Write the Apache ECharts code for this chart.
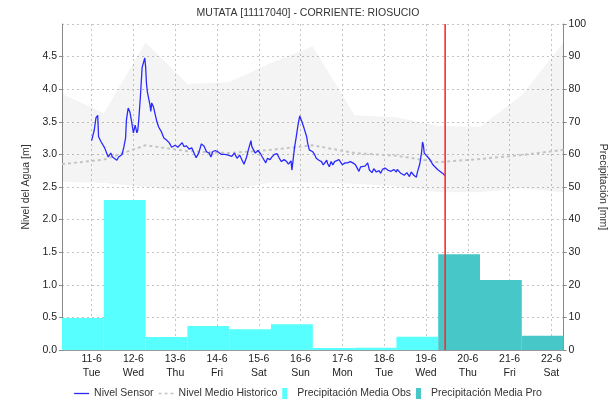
<!DOCTYPE html>
<html>
<head>
<meta charset="utf-8">
<script src="https://cdn.jsdelivr.net/npm/echarts@6/dist/echarts.min.js"></script>
<style>
html, body { margin: 0; padding: 0; background: #fff; }
#chart { width: 616px; height: 405px; }
</style>
</head>
<body>
<div id="chart"></div>
<script>
// nivel sensor: horas desde 11-6 00:00 y nivel [m]
var sensorHours = [
  0, 1.5, 2.5, 3.5, 4, 5.5, 7.5, 9.5, 11, 12,
  14.5, 15.5, 17.5, 18.5, 19.5, 20, 21, 22, 23, 23.5,
  24, 25, 26, 26.5, 27, 28, 29, 29.5, 30.5, 31,
  31.5, 32, 33, 33.5, 34, 34.5, 35.5, 37.5, 38.5, 40,
  41.5, 43, 44.5, 46, 48, 49.5, 50.5, 52, 53, 54.5,
  56, 57.5, 58.5, 60, 61.5, 63, 64.5, 66, 67.5, 68.5,
  69.5, 71, 72.5, 73.5, 74.5, 76.5, 78.5, 80.5, 82, 83.5,
  85, 86, 87.5, 89, 90, 91.5, 92, 93, 94, 95.5,
  97, 98, 100, 101, 102.5, 103.5, 105, 106.5, 108, 109,
  110.5, 112, 113, 114.5, 115, 115.5, 116.5, 117.5, 118.5, 119.5,
  120, 120.5, 122, 123.5, 124, 125, 126, 127, 128, 129,
  130.5, 131.5, 132, 133, 135, 135.5, 136.5, 137.5, 138.5, 139.5,
  140.5, 142, 143, 144, 145.5, 147, 148.5, 150, 151.5, 152.5,
  153.5, 154.5, 155.5, 157, 158.5, 159.5, 161, 162, 163.5, 165,
  166, 167, 168.5, 170, 171, 172, 173.5, 175, 175.5, 177.5,
  178.5, 179.5, 181, 182.5, 183.5, 185, 186.5, 187, 188.5, 189.5,
  190, 190.5, 191, 192, 193, 194.5, 196, 197.5, 199, 200.5, 202, 203
];
var sensorLevel = [
  3.21, 3.37, 3.56, 3.60, 3.27, 3.19, 3.10, 2.96, 3.02, 2.96,
  2.91, 2.96, 3.00, 3.11, 3.25, 3.53, 3.71, 3.65, 3.50, 3.48,
  3.33, 3.45, 3.33, 3.37, 3.50, 3.88, 4.33, 4.35, 4.48, 4.35,
  4.09, 3.96, 3.98, 3.76, 3.66, 3.79, 3.73, 3.50, 3.42, 3.35,
  3.25, 3.22, 3.18, 3.11, 3.14, 3.11, 3.14, 3.18, 3.12, 3.13,
  3.08, 3.10, 3.04, 2.95, 3.02, 3.16, 3.13, 3.04, 3.02, 2.96,
  3.04, 3.06, 3.04, 3.07, 3.00, 3.00, 2.99, 2.97, 3.02, 2.94,
  2.99, 2.96, 2.85, 2.96, 3.07, 3.21, 3.12, 3.11, 3.02, 3.06,
  3.01, 2.96, 2.87, 2.94, 2.92, 2.96, 3.00, 3.01, 2.93, 2.89,
  2.92, 2.89, 2.85, 2.90, 2.76, 2.87, 3.10, 3.27, 3.45, 3.59,
  3.60, 3.52, 3.40, 3.27, 3.18, 3.07, 3.10, 3.04, 3.00, 2.94,
  2.91, 2.92, 2.89, 2.84, 2.91, 2.86, 2.81, 2.89, 2.84, 2.89,
  2.87, 2.92, 2.89, 2.84, 2.87, 2.87, 2.89, 2.87, 2.84, 2.87,
  2.74, 2.81, 2.79, 2.82, 2.87, 2.76, 2.72, 2.78, 2.73, 2.75,
  2.71, 2.77, 2.79, 2.76, 2.79, 2.74, 2.77, 2.73, 2.77, 2.71,
  2.73, 2.68, 2.72, 2.66, 2.73, 2.68, 2.65, 2.72, 2.86, 3.04,
  3.19, 3.14, 3.02, 3.03, 2.96, 2.91, 2.84, 2.80, 2.76, 2.73, 2.70, 2.67
];

// historico diario (07:00)
var histTime = ['2024-06-10 07:00', '2024-06-11 07:00', '2024-06-12 07:00', '2024-06-13 07:00',
  '2024-06-14 07:00', '2024-06-15 07:00', '2024-06-16 07:00', '2024-06-17 07:00', '2024-06-18 07:00',
  '2024-06-19 07:00', '2024-06-20 07:00', '2024-06-21 07:00', '2024-06-22 07:00'];
var histMax = [3.93, 3.63, 4.72, 4.08, 4.11, 4.40, 4.66, 3.60, 3.57, 3.44, 3.42, 3.91, 4.72];
var histMin = [2.58, 2.56, 2.50, 2.43, 2.45, 2.57, 2.57, 2.55, 2.51, 2.42, 2.42, 2.48, 2.42];
var histMean = [2.85, 2.92, 3.14, 3.05, 3.02, 3.07, 3.14, 3.02, 2.98, 2.88, 2.93, 2.99, 3.07];

// precipitacion diaria [mm], dia de 07:00 a 07:00
var obsStart = ['2024-06-10 07:00', '2024-06-11 07:00', '2024-06-12 07:00', '2024-06-13 07:00',
  '2024-06-14 07:00', '2024-06-15 07:00', '2024-06-16 07:00', '2024-06-17 07:00', '2024-06-18 07:00'];
var obsRain = [9.8, 46, 4.0, 7.4, 6.4, 7.9, 0.6, 0.7, 4.1];
var proStart = ['2024-06-19 07:00', '2024-06-20 07:00', '2024-06-21 07:00'];
var proRain = [29.4, 21.5, 4.4];

var nowTime = '2024-06-19 11:00';
var dayNames = ['Sun', 'Mon', 'Tue', 'Wed', 'Thu', 'Fri', 'Sat'];

var DAY = 86400000;
var HOUR = 3600000;
var font = 'Liberation Sans, Arial, sans-serif';

function ts(s) {
  return new Date(s.replace(' ', 'T')).getTime();
}

var base = ts('2024-06-11 00:00');
var sensorData = sensorHours.map(function (h, i) { return [base + h * HOUR, sensorLevel[i]]; });
var minData = histTime.map(function (t, i) { return [ts(t), histMin[i]]; });
var bandData = histTime.map(function (t, i) { return [ts(t), +(histMax[i] - histMin[i]).toFixed(2)]; });
var meanData = histTime.map(function (t, i) { return [ts(t), histMean[i]]; });
var obsData = obsStart.map(function (t, i) { return [ts(t), ts(t) + DAY, obsRain[i]]; });
var proData = proStart.map(function (t, i) { return [ts(t), ts(t) + DAY, proRain[i]]; });

function renderBar(params, api) {
  var p0 = api.coord([api.value(0), api.value(2)]);
  var p1 = api.coord([api.value(1), 0]);
  return {
    type: 'rect',
    shape: { x: p0[0], y: p0[1], width: p1[0] - p0[0], height: p1[1] - p0[1] },
    style: { fill: api.visual('color') },
  };
}

// linea vertical roja en el momento actual
function renderNow(params, api) {
  var top = api.coord([api.value(0), 100]);
  var bottom = api.coord([api.value(0), 0]);
  return {
    type: 'line',
    shape: { x1: top[0], y1: top[1], x2: bottom[0], y2: bottom[1] },
    style: { stroke: '#ff2a2a', lineWidth: 1.6 },
  };
}

var gridLine = { color: '#c4c4c4', type: [2, 3], width: 1 };
var barIcon = 'path://M0,0h5v11h-5z';

var chart = echarts.init(document.getElementById('chart'));
chart.setOption({
  animation: false,
  textStyle: { fontFamily: font },
  title: {
    text: 'MUTATA [11117040] - CORRIENTE: RIOSUCIO',
    left: 'center',
    top: 3,
    textStyle: { fontSize: 10.5, fontWeight: 'normal', color: '#333', fontFamily: font },
  },
  legend: {
    top: 383,
    left: 'center',
    itemWidth: 15,
    itemHeight: 11,
    itemGap: 5,
    textStyle: { fontSize: 10.5, color: '#333', fontFamily: font },
    data: [
      { name: 'Nivel Sensor', icon: 'path://M0,0h15v1.3h-15z' },
      { name: 'Nivel Medio Historico', icon: 'path://M0,0h3v1.5h-3zM6,0h3v1.5h-3zM12,0h3v1.5h-3z' },
      { name: 'Precipitación Media Obs', icon: barIcon },
      { name: 'Precipitación Media Pro', icon: barIcon },
    ],
  },
  grid: { left: 62, right: 50, top: 24, bottom: 55 },
  xAxis: [
    {
      type: 'time',
      min: ts('2024-06-10 07:00'),
      max: ts('2024-06-22 07:00'),
      minInterval: DAY,
      maxInterval: DAY,
      axisLine: { lineStyle: { color: '#555', type: 'dotted' } },
      axisTick: { show: false },
      splitLine: { show: true, lineStyle: gridLine },
      axisLabel: {
        color: '#222',
        fontSize: 10.5,
        lineHeight: 14,
        margin: 2,
        showMinLabel: false,
        showMaxLabel: false,
        formatter: function (v) {
          var d = new Date(v);
          return d.getDate() + '-' + (d.getMonth() + 1) + '\n' + dayNames[d.getDay()];
        },
      },
    },
    {
      // borde superior del grafico
      type: 'value',
      position: 'top',
      min: 0,
      max: 1,
      axisLine: { show: true, lineStyle: { color: '#999' } },
      axisTick: { show: false },
      axisLabel: { show: false },
      splitLine: { show: false },
    },
  ],
  yAxis: [
    {
      type: 'value',
      min: 0,
      max: 5,
      interval: 0.5,
      name: 'Nivel del Agua [m]',
      nameLocation: 'middle',
      nameGap: 23,
      nameTextStyle: { fontSize: 10.5, color: '#333' },
      axisLine: { show: true, lineStyle: { color: '#888' } },
      axisTick: { show: true, length: 3, lineStyle: { color: '#888' } },
      axisLabel: {
        color: '#222',
        fontSize: 10.5,
        margin: 5,
        showMaxLabel: false,
        formatter: function (v) { return v.toFixed(1); },
      },
      splitLine: { lineStyle: gridLine },
    },
    {
      type: 'value',
      min: 0,
      max: 100,
      interval: 10,
      position: 'right',
      name: 'Precipitación [mm]',
      nameLocation: 'middle',
      nameGap: 24,
      nameRotate: -90,
      nameTextStyle: { fontSize: 10.5, color: '#333' },
      axisLine: { show: true, lineStyle: { color: '#888' } },
      axisTick: { show: true, length: 3, lineStyle: { color: '#888' } },
      axisLabel: { color: '#222', fontSize: 10.5, margin: 5 },
      splitLine: { show: false },
    },
  ],
  series: [
    {
      name: 'min',
      type: 'line',
      stack: 'band',
      symbol: 'none',
      lineStyle: { opacity: 0 },
      data: minData,
      z: 1,
    },
    {
      name: 'band',
      type: 'line',
      stack: 'band',
      symbol: 'none',
      lineStyle: { opacity: 0 },
      areaStyle: { color: 'rgba(0,0,0,0.06)' },
      data: bandData,
      z: 1,
    },
    {
      name: 'Precipitación Media Obs',
      type: 'custom',
      yAxisIndex: 1,
      renderItem: renderBar,
      encode: { x: [0, 1], y: 2 },
      itemStyle: { color: '#57ffff' },
      data: obsData,
      z: 2,
    },
    {
      name: 'Precipitación Media Pro',
      type: 'custom',
      yAxisIndex: 1,
      renderItem: renderBar,
      encode: { x: [0, 1], y: 2 },
      itemStyle: { color: '#47c7c8' },
      data: proData,
      z: 2,
    },
    {
      name: 'Nivel Medio Historico',
      type: 'line',
      symbol: 'none',
      itemStyle: { color: '#c4c4c4' },
      lineStyle: { color: '#c4c4c4', width: 2, type: [3, 3] },
      data: meanData,
      z: 3,
    },
    {
      name: 'Nivel Sensor',
      type: 'line',
      symbol: 'none',
      itemStyle: { color: '#2a2aff' },
      lineStyle: { color: '#2a2aff', width: 1.3 },
      data: sensorData,
      z: 4,
    },
    {
      name: 'ahora',
      type: 'custom',
      yAxisIndex: 1,
      renderItem: renderNow,
      encode: { x: 0 },
      silent: true,
      data: [[ts(nowTime)]],
      z: 6,
    },
  ],
});
</script>
</body>
</html>
